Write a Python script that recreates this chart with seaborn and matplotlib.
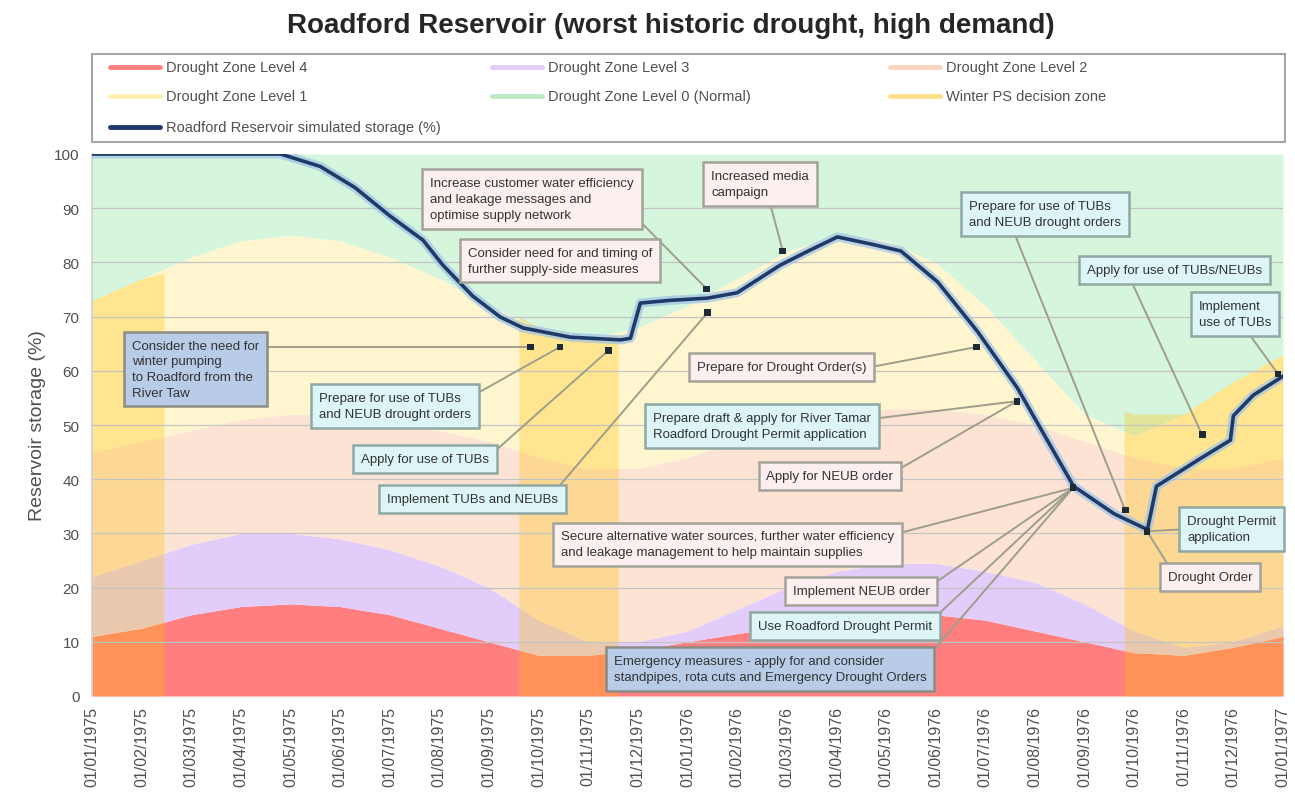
import matplotlib
matplotlib.use("Agg")
import matplotlib.pyplot as plt
from matplotlib.lines import Line2D
from matplotlib.patches import Rectangle
import pandas as pd
import seaborn as sns

# x axis: months since 01/01/1975, one tick per month
months = list(range(25))
tick_labels = pd.date_range("1975-01-01", "1977-01-01", freq="MS").strftime("%d/%m/%Y").tolist()

# upper edge of each drought zone (% storage) at each month start
level4_top = [11, 12.5, 15, 16.5, 17, 16.5, 15, 12.5, 10, 7.5, 7.5, 8.5, 10,
              11.5, 13, 14.5, 15, 15, 14, 12, 10, 8, 7.5, 9, 11]
level3_top = [22, 25, 28, 30, 30, 29, 27, 24, 20, 14, 10, 10, 12,
              16, 20, 23, 24.5, 24.5, 23, 21, 17, 12, 9, 10, 13]
level2_top = [45, 47, 49, 51, 52, 52, 51, 49, 47, 44, 42, 42, 44,
              47, 50, 52, 53, 53, 52, 50, 47, 44, 42, 42, 44]
level1_top = [73, 77, 81, 84, 85, 84, 81, 77, 72, 68, 66, 68, 72,
              77, 82, 85, 84, 80, 72, 62, 52, 48, 52, 58, 63]

# winter pumped storage decision zone (three winter spans)
winter_x = [[0, 1, 1.45], [8.6, 9, 10, 10.6], [20.8, 21, 22, 23, 24]]
winter_top = [[73, 77, 78], [70, 68, 66, 66.5], [52.5, 52, 52, 58, 63]]

# Roadford simulated storage
storage_month = [0, 3.8, 4.6, 5.3, 6.0, 6.67, 7.07, 7.67, 8.23, 8.69, 9.64, 10.65,
                 10.85, 11.05, 11.65, 12.4, 13.0, 13.87, 14.41, 15.02, 15.69, 16.3,
                 17.04, 17.84, 18.65, 19.78, 20.6, 21.2, 21.27, 21.45, 22.35, 22.94,
                 23.0, 23.4, 24.0]
storage_pct = [100, 100, 97.7, 93.8, 88.6, 84.1, 79.5, 73.8, 69.9, 67.9, 66.2, 65.7,
               66.0, 72.5, 73.0, 73.4, 74.4, 79.5, 82.0, 84.7, 83.4, 82.1,
               76.4, 67.3, 56.8, 38.7, 33.6, 31.0, 30.8, 38.7, 43.9, 47.2,
               51.7, 55.5, 59.0]

# trigger points marked on the chart
trigger_month = [8.83, 9.43, 10.40, 12.39, 12.41, 13.92, 17.83, 18.64, 19.77, 20.82, 21.26, 22.37, 23.90]
trigger_pct = [64.4, 64.4, 63.7, 75.1, 70.8, 82.1, 64.4, 54.4, 38.4, 34.3, 30.4, 48.2, 59.4]

# action boxes: text, style, box centre, leader start, index of trigger point (or None)
notes = [
    ("Increase customer water efficiency\nand leakage messages and\noptimise supply network", "pink", (8.87, 91.7), (10.9, 88.9), 3),
    ("Consider need for and timing of\nfurther supply-side measures", "pink", (9.43, 80.3), None, None),
    ("Increased media\ncampaign", "pink", (13.46, 94.5), (13.66, 91.0), 5),
    ("Consider the need for\nwinter pumping\nto Roadford from the\nRiver Taw", "blue", (2.08, 60.3), (3.5, 64.4), 0),
    ("Prepare for use of TUBs\nand NEUB drought orders", "cyan", (6.11, 53.5), (7.5, 54.5), 1),
    ("Apply for use of TUBs", "cyan", (6.71, 43.7), (8.0, 44.2), 2),
    ("Implement TUBs and NEUBs", "cyan", (7.66, 36.3), (9.3, 37.5), 4),
    ("Prepare for Drought Order(s)", "pink", (13.9, 60.7), (15.7, 60.7), 6),
    ("Prepare draft & apply for River Tamar\nRoadford Drought Permit application", "cyan", (13.5, 49.8), (15.7, 51.1), 7),
    ("Apply for NEUB order", "pink", (14.87, 40.6), (16.1, 41.0), 7),
    ("Secure alternative water sources, further water efficiency\nand leakage management to help maintain supplies", "pink", (12.8, 28.0), (16.2, 29.9), 8),
    ("Implement NEUB order", "pink", (15.5, 19.4), (16.8, 19.7), 8),
    ("Use Roadford Drought Permit", "cyan", (15.17, 12.9), (16.8, 12.9), 8),
    ("Emergency measures - apply for and consider\nstandpipes, rota cuts and Emergency Drought Orders", "blue", (13.66, 5.0), (16.8, 6.8), 8),
    ("Prepare for use of TUBs\nand NEUB drought orders", "cyan", (19.2, 88.9), (18.56, 86.0), 9),
    ("Apply for use of TUBs/NEUBs", "cyan", (21.82, 78.6), (20.92, 77.0), 11),
    ("Implement\nuse of TUBs", "cyan", (23.03, 70.5), (23.3, 67.0), 12),
    ("Drought Permit\napplication", "cyan", (22.97, 30.8), (22.1, 30.8), 10),
    ("Drought Order", "pink", (22.53, 22.0), (21.8, 22.5), 10),
]

c_l4, c_l3, c_l2, c_l1, c_l0 = "#FF7F7F", "#E2CCFA", "#FCE3D4", "#FFF6CF", "#D5F5DC"
c_winter = "#FFC000"
c_line = "#1F3A68"
box_styles = {
    "pink": dict(fc="#FBEFF0", ec="#A3A39A"),
    "cyan": dict(fc="#DDF5F7", ec="#8FA8A3"),
    "blue": dict(fc="#B8CCE8", ec="#8C8C84"),
}

sns.set_theme(style="white")
plt.rcParams["font.family"] = ["Liberation Sans", "DejaVu Sans"]

W, H = 1295, 803
fig = plt.figure(figsize=(W / 100, H / 100), dpi=100)
ax = fig.add_axes([92 / W, 1 - 697 / H, (1283 - 92) / W, (697 - 155) / H])

# drought zones
ax.fill_between(months, 0, level4_top, color=c_l4, lw=0, zorder=1)
ax.fill_between(months, level4_top, level3_top, color=c_l3, lw=0, zorder=1)
ax.fill_between(months, level3_top, level2_top, color=c_l2, lw=0, zorder=1)
ax.fill_between(months, level2_top, level1_top, color=c_l1, lw=0, zorder=1)
ax.fill_between(months, level1_top, 100, color=c_l0, lw=0, zorder=1)
for wx, wt in zip(winter_x, winter_top):
    ax.fill_between(wx, 0, wt, color=c_winter, alpha=0.3, lw=0, zorder=2)

for v in range(10, 100, 10):
    ax.axhline(v, color="#C4C4C4", lw=0.9, zorder=3)

# storage line with a soft glow
sns.lineplot(x=storage_month, y=storage_pct, ax=ax, color="#9DC3E6", lw=6.5,
             alpha=0.7, sort=False, zorder=4)
sns.lineplot(x=storage_month, y=storage_pct, ax=ax, color=c_line, lw=2.6,
             sort=False, zorder=5)

for text, style, (bx, by), start, target in notes:
    st = box_styles[style]
    if target is not None:
        ax.annotate("", xy=(trigger_month[target], trigger_pct[target]),
                    xytext=start, textcoords="data", zorder=6, annotation_clip=False,
                    arrowprops=dict(arrowstyle="-", color="#9E9E8A", lw=1.4,
                                    shrinkA=0, shrinkB=0))
    ax.text(bx, by, text, ha="center", va="center", fontsize=9.5,
            linespacing=1.4, multialignment="left", color="#333333", zorder=7,
            clip_on=False,
            bbox=dict(boxstyle="square,pad=0.6", fc=st["fc"], ec=st["ec"], lw=1.8))

sns.scatterplot(x=trigger_month, y=trigger_pct, ax=ax, marker="s", s=24,
                color="#1E2B36", edgecolor="none", zorder=8)

ax.set_xlim(0, 24)
ax.set_ylim(0, 100)
ax.set_xticks(months)
ax.set_xticklabels(tick_labels, rotation=90, fontsize=11.5, color="#505050")
ax.set_yticks(range(0, 101, 10))
ax.set_yticklabels([str(v) for v in range(0, 101, 10)], fontsize=11, color="#505050")
ax.tick_params(axis="y", pad=9, length=0)
ax.tick_params(axis="x", pad=7, length=0)
ax.set_ylabel("Reservoir storage (%)", fontsize=14, color="#505050", labelpad=6)
ax.set_xlabel("")
for side in ["top", "right", "bottom"]:
    ax.spines[side].set_visible(False)
ax.spines["left"].set_color("#D0D0D0")

# legend: framed box above the plot, three columns
fig.add_artist(Rectangle((92 / W, 1 - 143 / H), (1285 - 92) / W, 88 / H,
                         transform=fig.transFigure, fc="white", ec="#A6A6A6", lw=1.5))
legend_items = [
    ("Drought Zone Level 4", c_l4, 110, 68),
    ("Drought Zone Level 3", c_l3, 492, 68),
    ("Drought Zone Level 2", "#F9D3BC", 890, 68),
    ("Drought Zone Level 1", "#FFEFB0", 110, 97),
    ("Drought Zone Level 0 (Normal)", "#BDEBC8", 492, 97),
    ("Winter PS decision zone", "#FFE08A", 890, 97),
    ("Roadford Reservoir simulated storage (%)", c_line, 110, 128),
]
for label, col, x0, y0 in legend_items:
    fig.add_artist(Line2D([x0 / W, (x0 + 50) / W], [1 - y0 / H, 1 - y0 / H],
                          transform=fig.transFigure, color=col, lw=3.5))
    fig.text((x0 + 56) / W, 1 - y0 / H, label, fontsize=10.5, color="#505050",
             va="center", ha="left")

fig.text(671 / W, 1 - 26 / H, "Roadford Reservoir (worst historic drought, high demand)",
         ha="center", va="center", fontsize=20, fontweight="bold", color="#262626")

fig.savefig("out.png", dpi=100)
